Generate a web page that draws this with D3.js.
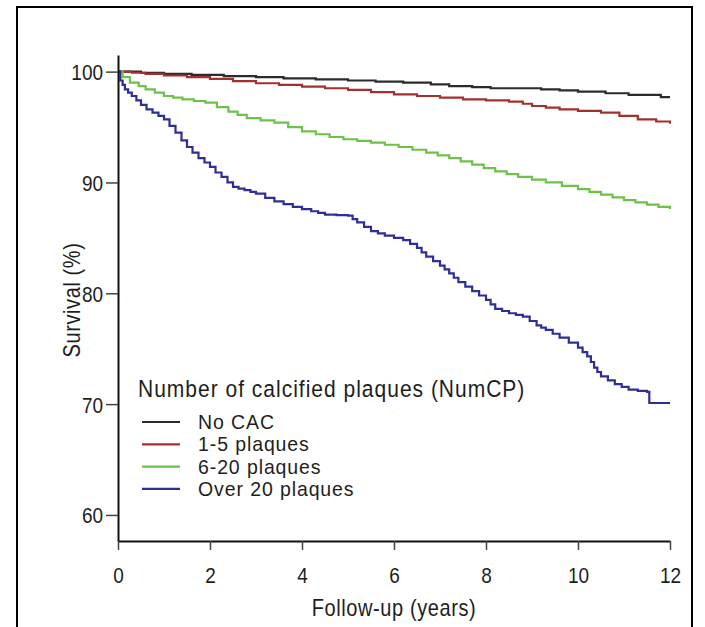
<!DOCTYPE html>
<html>
<head>
<meta charset="utf-8">
<script src="https://cdn.jsdelivr.net/npm/d3@7"></script>
<style>
  body { margin: 0; background: #fff; }
  text { font-family: "Liberation Sans", Arial, sans-serif; fill: #1e1e1e; }
</style>
</head>
<body>
<script>
// follow-up years and survival (%)
var noCac = [[0,100],[0.5,99.9],[1,99.8],[1.6,99.7],[2.3,99.6],[3,99.5],[3.6,99.4],[4.3,99.3],[5,99.2],[5.6,99.1],[6.2,99.0],[6.8,98.85],[7.2,98.7],[7.7,98.6],[8.1,98.5],[9.2,98.4],[9.6,98.3],[10,98.2],[10.6,98.05],[11.1,97.9],[11.8,97.7],[12,97.7]];
var plaques1to5 = [[0,100],[0.3,99.9],[0.6,99.8],[1,99.65],[1.5,99.5],[2,99.35],[2.5,99.15],[3,98.95],[3.5,98.8],[4,98.65],[4.5,98.5],[5,98.35],[5.5,98.15],[6,97.95],[6.5,97.8],[7,97.65],[7.5,97.5],[8,97.4],[8.5,97.3],[8.8,97.1],[9,96.9],[9.3,96.75],[9.6,96.6],[10,96.45],[10.5,96.3],[10.9,96.0],[11.3,95.7],[11.7,95.5],[12,95.3]];
var plaques6to20 = [[0,100],[0.1,99.5],[0.26,99.0],[0.45,98.7],[0.6,98.4],[0.8,98.1],[1.0,97.8],[1.2,97.65],[1.4,97.5],[1.65,97.35],[1.9,97.2],[2.15,96.8],[2.4,96.4],[2.6,96.1],[2.8,95.8],[3.1,95.6],[3.4,95.4],[3.7,95.0],[4.0,94.6],[4.3,94.35],[4.6,94.1],[4.9,93.9],[5.2,93.75],[5.5,93.6],[5.8,93.4],[6.1,93.2],[6.4,92.95],[6.7,92.7],[6.95,92.45],[7.2,92.2],[7.45,91.9],[7.7,91.6],[7.95,91.3],[8.2,91.0],[8.45,90.75],[8.7,90.5],[9.0,90.25],[9.3,90.0],[9.65,89.7],[10.0,89.4],[10.25,89.15],[10.5,88.9],[10.75,88.65],[11.0,88.4],[11.25,88.2],[11.5,88.0],[11.75,87.8],[12,87.6]];
var plaquesOver20 = [[0,100],[0.05,99.2],[0.1,98.8],[0.15,98.4],[0.22,98.1],[0.3,97.8],[0.4,97.4],[0.5,97.0],[0.62,96.6],[0.75,96.3],[0.88,96.0],[1.0,95.7],[1.12,95.1],[1.25,94.5],[1.38,93.8],[1.5,93.2],[1.62,92.7],[1.75,92.2],[1.88,91.8],[2.0,91.4],[2.12,90.9],[2.25,90.5],[2.38,90.0],[2.5,89.6],[2.62,89.45],[2.75,89.3],[2.88,89.15],[3.0,89.0],[3.2,88.6],[3.4,88.3],[3.6,88.05],[3.8,87.8],[4.0,87.6],[4.2,87.4],[4.35,87.25],[4.5,87.1],[4.75,87.05],[5.0,87.0],[5.1,86.7],[5.2,86.4],[5.35,86.0],[5.5,85.6],[5.65,85.4],[5.8,85.2],[6.0,85.0],[6.2,84.8],[6.35,84.45],[6.5,84.1],[6.6,83.7],[6.7,83.3],[6.85,82.9],[7.0,82.5],[7.1,82.15],[7.2,81.8],[7.3,81.4],[7.4,81.0],[7.55,80.6],[7.7,80.2],[7.85,79.8],[8.0,79.4],[8.1,79.0],[8.2,78.6],[8.35,78.4],[8.5,78.2],[8.65,78.05],[8.8,77.9],[8.95,77.5],[9.1,77.1],[9.2,76.9],[9.3,76.7],[9.45,76.35],[9.6,76.0],[9.8,75.55],[10.0,75.1],[10.1,74.7],[10.2,74.3],[10.28,73.8],[10.35,73.3],[10.42,72.9],[10.5,72.5],[10.65,72.15],[10.8,71.8],[10.95,71.55],[11.1,71.3],[11.3,71.2],[11.5,71.1],[11.55,70.1],[12,70.1]];

var seriesNames = ["No CAC", "1-5 plaques", "6-20 plaques", "Over 20 plaques"];
var seriesColors = ["#2b2b2b", "#a3302c", "#6cc24a", "#2e2e96"];
var xTicks = [0, 2, 4, 6, 8, 10, 12];
var yTicks = [60, 70, 80, 90, 100];

var width = 705, height = 627;
var stretch = 1.16; // text in the source image is a little taller than wide

var svg = d3.select("body").append("svg")
    .attr("width", width)
    .attr("height", height);

// frame round the figure
svg.append("rect")
    .attr("x", 17).attr("y", 7)
    .attr("width", 675).attr("height", 660)
    .attr("fill", "none")
    .attr("stroke", "#000")
    .attr("stroke-width", 2);

var x = d3.scaleLinear().domain([0, 12]).range([118, 670]);
var y = d3.scaleLinear().domain([57.65, 101.5]).range([541, 55]);

var line = d3.line()
    .x(function (d) { return x(d[0]); })
    .y(function (d) { return y(d[1]); })
    .curve(d3.curveStepAfter);

var allSeries = [noCac, plaques1to5, plaques6to20, plaquesOver20];

svg.append("g").selectAll("path")
    .data(allSeries)
    .enter().append("path")
    .attr("d", line)
    .attr("fill", "none")
    .attr("stroke", function (d, i) { return seriesColors[i]; })
    .attr("stroke-width", 2.2);

function place(sel, tx, ty) {
    sel.attr("x", null).attr("y", null).attr("dy", null)
        .attr("transform", "translate(" + tx + "," + ty + ") scale(1," + stretch + ")");
}

// axes
var yAxis = svg.append("g")
    .attr("transform", "translate(118,0)")
    .call(d3.axisLeft(y).tickValues(yTicks).tickSize(12).tickSizeOuter(0));

var xAxis = svg.append("g")
    .attr("transform", "translate(0,541)")
    .call(d3.axisBottom(x).tickValues(xTicks).tickSize(9).tickSizeOuter(0));

[xAxis, yAxis].forEach(function (g) {
    g.select(".domain").attr("stroke", "#111").attr("stroke-width", 2);
    g.selectAll(".tick line").attr("stroke", "#444").attr("stroke-width", 1.5);
    g.selectAll(".tick text")
        .attr("font-size", 19)
        .attr("font-family", "Liberation Sans, Arial, sans-serif")
        .attr("fill", "#1e1e1e");
});
xAxis.selectAll(".tick text").each(function () { place(d3.select(this), 0, 42); });
yAxis.selectAll(".tick text").each(function () { place(d3.select(this), -15, 8); });

svg.append("text")
    .attr("text-anchor", "middle")
    .attr("font-size", 20)
    .attr("letter-spacing", 0.6)
    .attr("transform", "translate(394,616) scale(1," + stretch + ")")
    .text("Follow-up (years)");

svg.append("text")
    .attr("transform", "translate(80,300) rotate(-90) scale(1," + stretch + ")")
    .attr("text-anchor", "middle")
    .attr("font-size", 20)
    .attr("letter-spacing", 0.6)
    .text("Survival (%)");

// legend
var legend = svg.append("g");

legend.append("text")
    .attr("transform", "translate(138,397) scale(1," + stretch + ")")
    .attr("font-size", 21)
    .attr("letter-spacing", 1)
    .text("Number of calcified plaques (NumCP)");

var items = legend.selectAll("g.item")
    .data(seriesNames)
    .enter().append("g")
    .attr("class", "item")
    .attr("transform", function (d, i) { return "translate(0," + (422 + i * 22.3) + ")"; });

items.append("line")
    .attr("x1", 142).attr("x2", 180)
    .attr("stroke", function (d, i) { return seriesColors[i]; })
    .attr("stroke-width", 2.2);

items.append("text")
    .attr("transform", "translate(198,7) scale(1,1.08)")
    .attr("font-size", 19.5)
    .attr("letter-spacing", 0.9)
    .text(function (d) { return d; });
</script>
</body>
</html>
